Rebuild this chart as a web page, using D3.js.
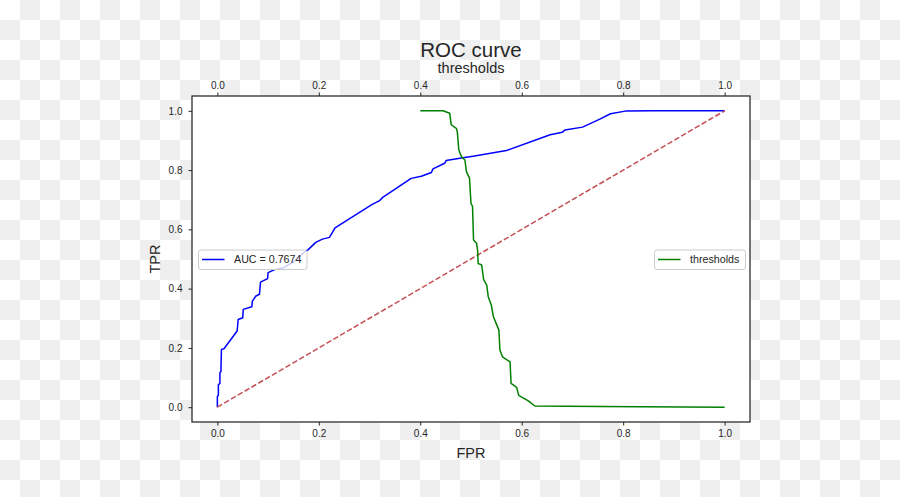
<!DOCTYPE html>
<html><head><meta charset="utf-8">
<script src="https://cdn.jsdelivr.net/npm/d3@7"></script>
<style>body{margin:0;}svg{display:block;font-family:"Liberation Sans",Arial,sans-serif;}</style>
</head><body>
<svg id="c" width="900" height="497"></svg>
<script>
const tickValues = [0.0, 0.2, 0.4, 0.6, 0.8, 1.0];
const rocFPR = [0,0,0.002,0.002,0.005,0.005,0.007,0.008,0.013,0.039,0.041,0.05,0.051,0.068,0.069,0.076,0.083,0.085,0.099,0.1,0.114,0.13,0.15,0.174,0.178,0.194,0.207,0.221,0.232,0.306,0.319,0.326,0.382,0.402,0.422,0.425,0.448,0.451,0.484,0.504,0.57,0.656,0.68,0.685,0.72,0.755,0.775,0.804,0.857,1.0];
const rocTPR = [0,0.036,0.04,0.076,0.08,0.116,0.12,0.195,0.197,0.257,0.296,0.302,0.33,0.339,0.358,0.375,0.381,0.422,0.434,0.454,0.465,0.47,0.49,0.527,0.53,0.556,0.567,0.573,0.605,0.685,0.696,0.708,0.772,0.779,0.792,0.804,0.823,0.832,0.842,0.847,0.866,0.919,0.928,0.935,0.945,0.973,0.99,0.999,1.0,1.0];
const thrX = [0.4,0.445,0.458,0.461,0.471,0.473,0.476,0.481,0.488,0.491,0.497,0.5,0.503,0.505,0.511,0.513,0.514,0.521,0.525,0.531,0.534,0.54,0.544,0.551,0.555,0.557,0.562,0.577,0.579,0.59,0.594,0.613,0.626,0.755,1.0];
const thrY = [1.0,1.0,0.992,0.953,0.941,0.93,0.868,0.846,0.834,0.795,0.773,0.688,0.677,0.564,0.553,0.53,0.485,0.48,0.43,0.412,0.373,0.345,0.306,0.277,0.26,0.193,0.17,0.153,0.08,0.067,0.04,0.021,0.004,0.002,0.0];
const diagX = [0, 1];
const diagY = [0, 1];
const aucLabel = "AUC = 0.7674";

const svg = d3.select("#c");
const L = 192, R = 750, T = 96, B = 422;
const txt = "#262626";

// checkerboard background
const defs = svg.append("defs");
const pat = defs.append("pattern").attr("id","chk").attr("patternUnits","userSpaceOnUse").attr("width",40).attr("height",40);
pat.append("rect").attr("width",40).attr("height",40).attr("fill","#ffffff");
pat.append("rect").attr("x",20).attr("y",0).attr("width",20).attr("height",20).attr("fill","#efefef");
pat.append("rect").attr("x",0).attr("y",20).attr("width",20).attr("height",20).attr("fill","#efefef");
svg.append("rect").attr("width",900).attr("height",497).attr("fill","url(#chk)");
svg.append("rect").attr("x",L).attr("y",T).attr("width",R-L).attr("height",B-T).attr("fill","#ffffff");

const x = d3.scaleLinear().domain([-0.05,1.05]).range([L,R]);
const xt = d3.scaleLinear().domain([-0.05,1.05]).range([L,R]);
const y = d3.scaleLinear().domain([-0.05,1.05]).range([B,T]);

defs.append("clipPath").attr("id","clip").append("rect").attr("x",L).attr("y",T).attr("width",R-L).attr("height",B-T);

const line = d3.line().x(d=>d[0]).y(d=>d[1]);
const g = svg.append("g").attr("clip-path","url(#clip)");
g.append("path").attr("d", line(rocFPR.map((v,i)=>[x(v), y(rocTPR[i])])))
  .attr("fill","none").attr("stroke","#0000ff").attr("stroke-width",1.5).attr("stroke-linejoin","round");
g.append("path").attr("d", line(diagX.map((v,i)=>[x(v), y(diagY[i])])))
  .attr("fill","none").attr("stroke","#c44e52").attr("stroke-width",1.5).attr("stroke-dasharray","5.5,2.4");
g.append("path").attr("d", line(thrX.map((v,i)=>[xt(v), y(thrY[i])])))
  .attr("fill","none").attr("stroke","#008000").attr("stroke-width",1.5).attr("stroke-linejoin","round");

function styleAxis(a){
  a.select(".domain").remove();
  a.selectAll(".tick line").attr("stroke",txt).attr("stroke-width",1);
  a.selectAll(".tick text").attr("fill",txt).attr("font-size","10px").attr("font-family","Liberation Sans, Arial, sans-serif");
}
const fmt = d3.format(".1f");
const ab = svg.append("g").attr("transform",`translate(0,${B})`).call(d3.axisBottom(x).tickValues(tickValues).tickFormat(fmt).tickSize(3.5).tickPadding(4));
styleAxis(ab);
const at = svg.append("g").attr("transform",`translate(0,${T})`).call(d3.axisTop(xt).tickValues(tickValues).tickFormat(fmt).tickSize(3.5).tickPadding(4));
styleAxis(at);
const al = svg.append("g").attr("transform",`translate(${L},0)`).call(d3.axisLeft(y).tickValues(tickValues).tickFormat(fmt).tickSize(3.5).tickPadding(6));
styleAxis(al);

svg.append("rect").attr("x",L).attr("y",T).attr("width",R-L).attr("height",B-T)
  .attr("fill","none").attr("stroke",txt).attr("stroke-width",1.25);

// titles
const cx = (L+R)/2;
svg.append("text").attr("x",cx).attr("y",56.5).attr("text-anchor","middle").attr("font-size","20.5px").attr("fill",txt).text("ROC curve");
svg.append("text").attr("x",cx).attr("y",72.5).attr("text-anchor","middle").attr("font-size","14.5px").attr("fill",txt).text("thresholds");
svg.append("text").attr("x",cx).attr("y",458).attr("text-anchor","middle").attr("font-size","14.5px").attr("fill",txt).text("FPR");
svg.append("text").attr("transform",`translate(160,${(T+B)/2}) rotate(-90)`).attr("text-anchor","middle").attr("font-size","14.5px").attr("fill",txt).text("TPR");

// legends
function legend(x0, w, color, label){
  const lg = svg.append("g");
  lg.append("rect").attr("x",x0).attr("y",250).attr("width",w).attr("height",19.5).attr("rx",2.5)
    .attr("fill","#ffffff").attr("fill-opacity",0.8).attr("stroke","#cccccc").attr("stroke-width",1);
  lg.append("line").attr("x1",x0+3.5).attr("x2",x0+26).attr("y1",259.5).attr("y2",259.5).attr("stroke",color).attr("stroke-width",1.5);
  lg.append("text").attr("x",x0+35.5).attr("y",263.4).attr("font-size","10.7px").attr("fill",txt).text(label);
}
legend(198.5, 108.5, "#0000ff", aucLabel);
legend(654.5, 91, "#008000", "thresholds");
</script>
</body></html>
